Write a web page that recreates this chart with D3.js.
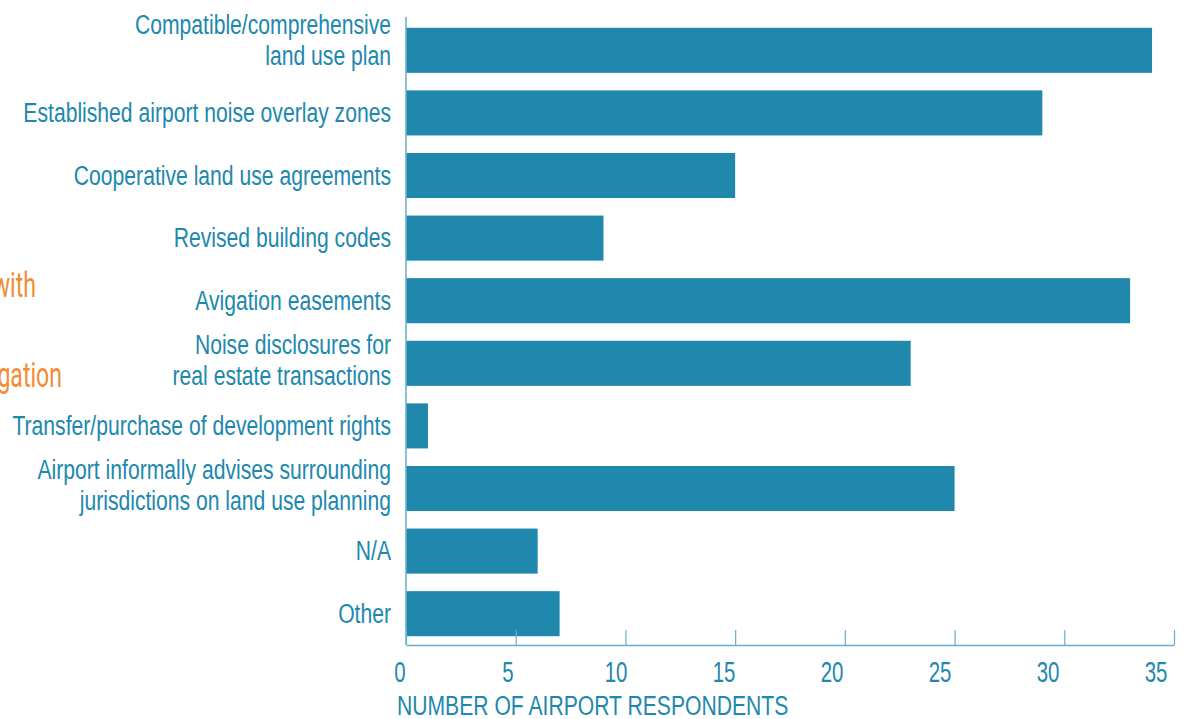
<!DOCTYPE html>
<html>
<head>
<meta charset="utf-8">
<script src="https://cdn.jsdelivr.net/npm/d3@7"></script>
<style>
  body { margin: 0; background: #fff; }
  text { font-family: "Liberation Sans", Arial, sans-serif; }
</style>
</head>
<body>
<div class="chart"></div>
<script>
const categories = [
  ["Compatible/comprehensive", "land use plan"],
  ["Established airport noise overlay zones"],
  ["Cooperative land use agreements"],
  ["Revised building codes"],
  ["Avigation easements"],
  ["Noise disclosures for", "real estate transactions"],
  ["Transfer/purchase of development rights"],
  ["Airport informally advises surrounding", "jurisdictions on land use planning"],
  ["N/A"],
  ["Other"]
];
const respondents = [34, 29, 15, 9, 33, 23, 1, 25, 6, 7];
const tickValues = [0, 5, 10, 15, 20, 25, 30, 35];

const data = categories.map((c, i) => ({key: i, lines: c, value: respondents[i]}));

const width = 1185, height = 719;
const blue = "#2088ad", axisBlue = "#6aaecb", orange = "#f28c33";

const svg = d3.select(".chart").append("svg")
    .attr("width", width)
    .attr("height", height);

const xScale = d3.scaleLinear()
    .domain([0, 35])
    .range([406, 1174]);

// tick numbers sit a bit left of their ticks in the original
const labelScale = d3.scaleLinear()
    .domain([0, 35])
    .range([400, 1156]);

const yScale = d3.scaleBand()
    .domain(data.map(d => d.key))
    .range([19, 645])
    .paddingInner(0.28)
    .paddingOuter(0.14);

function narrowText(sel, x, y, str, size, color, anchor, sq) {
  return sel.append("text")
    .attr("transform", `translate(${x},${y}) scale(${sq},1)`)
    .attr("text-anchor", anchor || "start")
    .attr("fill", color)
    .style("font-size", size + "px")
    .text(str);
}

// cut off page title text on the left
narrowText(svg, 36, 297, "with", 35, orange, "end", 0.66)
    .style("font-family", "Roboto, sans-serif");
narrowText(svg, 62, 387, "Mitigation", 35, orange, "end", 0.66)
    .style("font-family", "Roboto, sans-serif");

svg.selectAll(".bar")
    .data(data)
  .enter().append("rect")
    .attr("class", "bar")
    .attr("x", xScale(0))
    .attr("y", d => yScale(d.key))
    .attr("width", d => xScale(d.value) - xScale(0))
    .attr("height", yScale.bandwidth())
    .attr("fill", blue);

// category labels
data.forEach(d => {
  let cy = yScale(d.key) + yScale.bandwidth() / 2;
  const n = d.lines.length;
  if (n > 1) cy -= (d.key === 0 ? 10 : 3);
  d.lines.forEach((line, i) => {
    narrowText(svg, 391, cy + 9 + (i - (n - 1) / 2) * 30.5, line, 28, blue, "end", 0.755);
  });
});

// y axis line
svg.append("line")
    .attr("x1", xScale(0)).attr("x2", xScale(0))
    .attr("y1", 17).attr("y2", 645)
    .attr("stroke", axisBlue)
    .attr("stroke-width", 1.5);

const xAxis = d3.axisBottom(xScale)
    .tickValues(tickValues)
    .tickSizeInner(-15)
    .tickSizeOuter(0)
    .tickFormat("");

const gx = svg.append("g")
    .attr("class", "axis x-axis")
    .attr("transform", "translate(0,645)")
    .call(xAxis);

gx.select(".domain").attr("stroke", axisBlue).attr("stroke-width", 1.5);
gx.selectAll(".tick line").attr("stroke", axisBlue).attr("stroke-width", 1.2);

tickValues.forEach(v => {
  narrowText(svg, labelScale(v), 682, String(v), 30, blue, "middle", 0.68);
});

narrowText(svg, 397, 715, "NUMBER OF AIRPORT RESPONDENTS", 28, blue, "start", 0.755);
</script>
</body>
</html>
